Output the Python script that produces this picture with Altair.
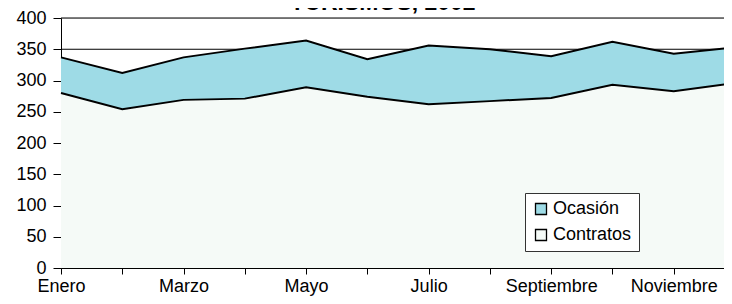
import altair as alt
import pandas as pd

months = ["Enero", "Febrero", "Marzo", "Abril", "Mayo", "Junio", "Julio",
          "Agosto", "Septiembre", "Octubre", "Noviembre", "Diciembre"]
contratos = [280, 254, 269, 271, 289, 274, 262, 267, 272, 293, 283, 296]
ocasion = [57, 58, 68, 80, 75, 60, 94, 83, 67, 69, 60, 57]
series_names = ["Ocasión", "Contratos"]
series_colors = ["#9EDBE6", "#F5FAF7"]
title_text = "TURISMOS, 2002"
y_ticks = [0, 50, 100, 150, 200, 250, 300, 350, 400]
ref_lines = [350, 400]

rows = []
for i, m in enumerate(months):
    c = contratos[i]
    o = ocasion[i]
    rows.append({"idx": i, "month": m, "series": "Contratos", "lower": 0, "upper": c})
    rows.append({"idx": i, "month": m, "series": "Ocasión", "lower": c, "upper": c + o})
df = pd.DataFrame(rows)

FONT = "Liberation Sans"
label_expr = "[" + ",".join("'%s'" % (m if k % 2 == 0 else "") for k, m in enumerate(months)) + "][datum.value]"

x_scale = alt.Scale(domain=[0, 11], range=[0, 674], nice=False, zero=False)
x_axis = alt.Axis(values=list(range(12)), labelExpr=label_expr, title=None,
                  grid=False, tickSize=6, labelPadding=17, labelBaseline="alphabetic",
                  domainColor="black", tickColor="black", labelColor="black",
                  labelFontSize=18, labelFont=FONT, labelFlush=False,
                  labelOverlap=False, domainWidth=1, tickWidth=1)
y_scale = alt.Scale(domain=[0, 400], nice=False)
y_axis = alt.Axis(values=y_ticks, title=None, grid=False, tickSize=8, labelPadding=7,
                  domainColor="black", tickColor="black", labelColor="black",
                  labelFontSize=18, labelFont=FONT, domainWidth=1, tickWidth=1,
                  labelOverlap=False, labelFlush=False)

base = alt.Chart(df)

rules = alt.Chart(pd.DataFrame({"v": ref_lines})).mark_rule(color="black", strokeWidth=1).encode(
    y=alt.Y("v:Q", scale=y_scale, axis=y_axis)
)

areas = base.mark_area(opacity=1).encode(
    x=alt.X("idx:Q", scale=x_scale, axis=x_axis),
    y=alt.Y("upper:Q", stack=None, scale=y_scale, axis=y_axis),
    y2="lower:Q",
    color=alt.Color("series:N",
                    scale=alt.Scale(domain=series_names, range=series_colors),
                    legend=alt.Legend(orient="none", legendX=464, legendY=175, title=None,
                                      symbolType="square", symbolSize=121,
                                      symbolStrokeColor="black", symbolStrokeWidth=1.3,
                                      symbolOpacity=1,
                                      labelFontSize=18, labelFont=FONT, labelColor="black",
                                      strokeColor="#333333", fillColor="white",
                                      padding=7, rowPadding=8, labelOffset=3)),
)

lines = base.mark_line(color="black", strokeWidth=2).encode(
    x=alt.X("idx:Q", scale=x_scale, axis=x_axis),
    y=alt.Y("upper:Q", scale=y_scale, axis=y_axis),
    detail="series:N",
)

title = alt.Chart(pd.DataFrame({"t": [title_text]})).mark_text(
    fontSize=23, fontWeight="bold", baseline="alphabetic", align="center", font=FONT, color="black"
).encode(x=alt.value(322), y=alt.value(-8), text="t:N")

chart = alt.layer(rules, areas, lines, title).properties(
    width=663, height=250,
    autosize="none",
    padding={"left": 53, "top": 10, "right": 0, "bottom": 28},
).configure_view(stroke=None).configure(background="white")

chart.save("out.html", embed_options={"renderer": "svg", "actions": False})
